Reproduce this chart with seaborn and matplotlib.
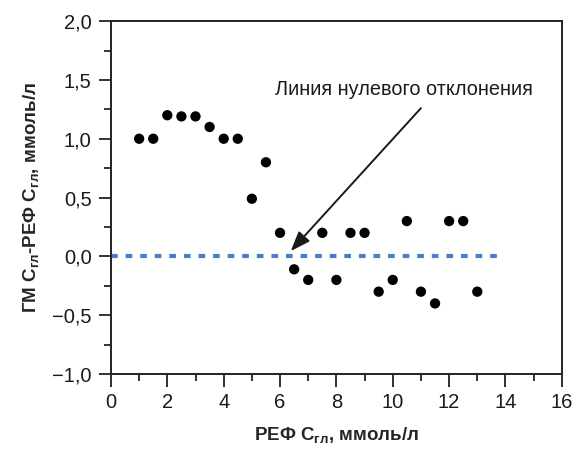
import numpy as np
import pandas as pd
import seaborn as sns
import matplotlib
matplotlib.use("Agg")
import matplotlib.pyplot as plt
from matplotlib.ticker import FuncFormatter, MultipleLocator

# ---------- data ----------
ref_glu = [1, 1.5, 2, 2.5, 3, 3.5, 4, 4.5, 5, 5.5, 6, 6.5, 7, 7.5, 8,
           8.5, 9, 9.5, 10, 10.5, 11, 11.5, 12, 12.5, 13]
diff_glu = [1.0, 1.0, 1.2, 1.19, 1.19, 1.1, 1.0, 1.0, 0.49, 0.8, 0.2, -0.11, -0.2, 0.2, -0.2,
            0.2, 0.2, -0.3, -0.2, 0.3, -0.3, -0.4, 0.3, 0.3, -0.3]
zero_line_x = [0, 13.85]
zero_line_y = [0, 0]

df = pd.DataFrame({"ref": ref_glu, "diff": diff_glu})

# ---------- style ----------
sns.set_style("ticks")
plt.rcParams["font.family"] = ["Liberation Sans", "DejaVu Sans"]
plt.rcParams["mathtext.fontset"] = "custom"
plt.rcParams["mathtext.rm"] = "Liberation Sans:bold"
plt.rcParams["mathtext.it"] = "Liberation Sans:bold"
plt.rcParams["mathtext.bf"] = "Liberation Sans:bold"
plt.rcParams["axes.unicode_minus"] = True

fig = plt.figure(figsize=(5.81, 4.49), dpi=100)
ax = fig.add_axes([0.191, 0.167, 0.776, 0.786])

ax.plot(zero_line_x, zero_line_y, color="#4a7fc8", lw=3, ls=(0, (1.6, 1.9)), zorder=1)
sns.scatterplot(data=df, x="ref", y="diff", color="black", s=55, edgecolor="none",
                ax=ax, zorder=3, legend=False)

# label + arrow pointing at the zero line
ax.text(10.4, 1.42, "Линия нулевого отклонения", ha="center", va="center",
        fontsize=14.3, color="#1a1a1a")
ax.annotate("", xy=(6.38, 0.045), xytext=(11.0, 1.26),
            arrowprops=dict(arrowstyle="-|>,head_length=1.2,head_width=0.45",
                            color="#1a1a1a", lw=1.4, shrinkA=0, shrinkB=0))

ax.set_xlim(0, 16)
ax.set_ylim(-1.0, 2.0)
ax.xaxis.set_major_locator(MultipleLocator(2))
ax.xaxis.set_minor_locator(MultipleLocator(1))
ax.yaxis.set_major_locator(MultipleLocator(0.5))
ax.yaxis.set_minor_locator(MultipleLocator(0.25))
ax.yaxis.set_major_formatter(FuncFormatter(lambda v, p: f"{v:.1f}".replace(".", ",").replace("-", "\u2212")))
ax.xaxis.set_major_formatter(FuncFormatter(lambda v, p: f"{v:.0f}"))

ax.tick_params(which="major", direction="out", length=9, width=1.3, labelsize=14.5, pad=5,
               color="#222222", labelcolor="#1a1a1a")
ax.tick_params(which="minor", direction="out", length=5, width=1.3, color="#222222")
for s in ax.spines.values():
    s.set_linewidth(1.4)
    s.set_color("#222222")

ax.set_xlabel("РЕФ C$_{гл}$, ммоль/л", fontsize=13.5, fontweight="bold", labelpad=9)
ax.set_ylabel("ГМ C$_{гл}$-РЕФ C$_{гл}$, ммоль/л", fontsize=13.5, fontweight="bold", labelpad=8)

fig.savefig("out.png", dpi=100)
